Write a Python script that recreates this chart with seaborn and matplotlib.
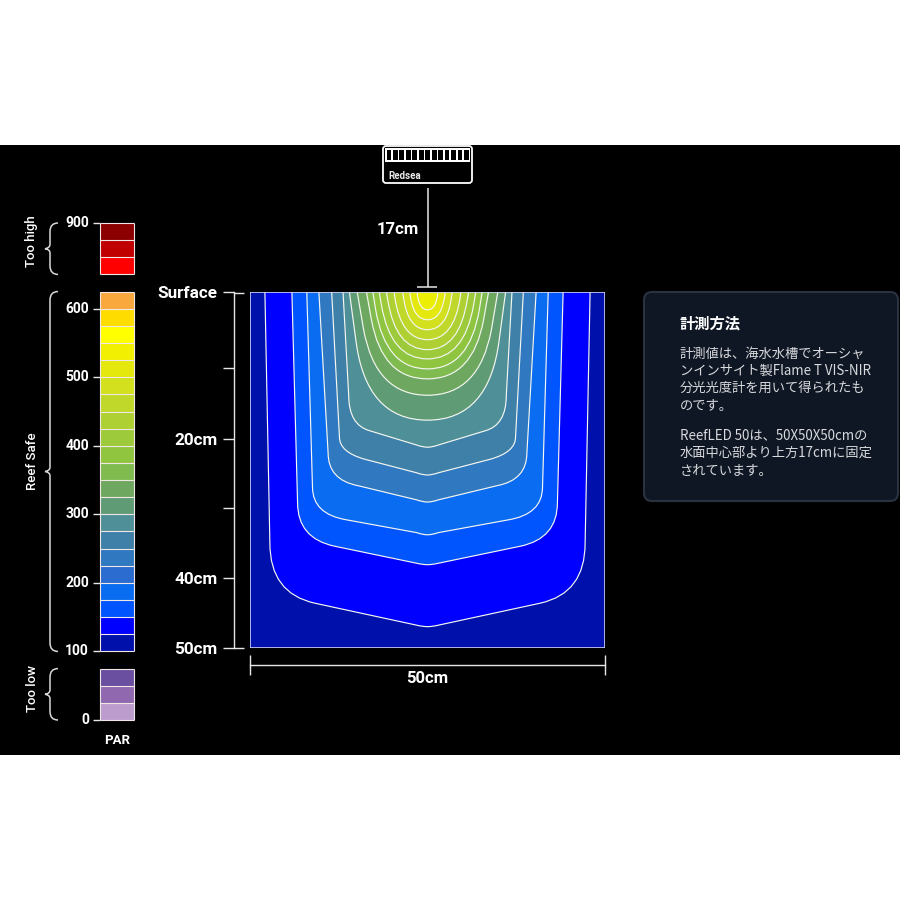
import numpy as np
import seaborn as sns
import matplotlib.pyplot as plt
from matplotlib.colors import ListedColormap
from matplotlib.patches import FancyBboxPatch, PathPatch, Rectangle
from matplotlib.path import Path
from matplotlib.transforms import blended_transform_factory

# PAR scale, top to bottom
too_high_colors = ["#8b0000", "#c00000", "#ff0000"]
reef_safe_colors = ["#f8a83c", "#ffdc00", "#ffff00", "#f2f000", "#e4e80c",
                    "#d2e01e", "#c0d82a", "#aed033", "#9cca3a", "#90c540",
                    "#80bb50", "#6ea860", "#5f9c75", "#4f9098", "#3f80a8",
                    "#3078c0", "#2a6cd0", "#0a6cf0", "#0055ff", "#0000ff", "#0010aa"]
too_low_colors = ["#6a4fa0", "#8f68b0", "#bc9ccc"]
par_tick_rows = [0, 5, 9, 13, 17, 21, 25, 29]
par_tick_labels = ["900", "600", "500", "400", "300", "200", "100", "0"]

# tank axes (cm)
depth_ticks = [0, 10.7, 20.6, 30.4, 40.1, 50]
depth_labels = ["Surface", "", "20cm", "", "40cm", "50cm"]

# iso-PAR contours, half of each curve as (half width cm, depth cm)
# outermost first: surface, corner start, corner control, corner end, chamfer end, apex control, apex
contour_outer = [
    [(22.9, 0), (22.2, 35.3), (22.2, 42.3), (15.9, 43.7), (1.5, 46.8), (0.7, 47.0), (0, 47.0)],
    [(19.1, 0), (18.3, 29.6), (18.3, 34.6), (13.1, 35.7), (1.5, 38.1), (0.7, 38.3), (0, 38.3)],
    [(17.0, 0), (16.2, 27.4), (16.2, 31.2), (11.4, 32.0), (1.5, 33.8), (0.7, 34.1), (0, 34.1)],
    [(15.3, 0), (14.0, 22.6), (14.0, 26.4), (9.8, 27.2), (1.5, 29.2), (0.7, 29.5), (0, 29.5)],
    [(13.5, 0), (12.4, 20.4), (12.4, 22.5), (8.8, 23.5), (1.5, 25.4), (0.7, 25.7), (0, 25.7)],
    [(11.9, 0), (11.1, 14.5), (11.1, 18.7), (8.1, 19.5), (1.5, 21.5), (0.7, 21.8), (0, 21.8)],
]
# inner ones: surface, curve start, curve control, apex
contour_inner = [
    [(11.0, 0), (10.1, 6.7), (8.7, 18.0), (0, 18.0)],
    [(9.9, 0), (9.0, 5.3), (7.3, 14.5), (0, 14.5)],
    [(8.6, 0), (7.9, 3.9), (6.4, 12.2), (0, 12.2)],
    [(7.7, 0), (7.3, 2.5), (5.9, 10.8), (0, 10.8)],
    [(6.8, 0), (6.5, 1.8), (5.2, 9.4), (0, 9.4)],
    [(5.8, 0), (5.6, 1.1), (4.5, 8.1), (0, 8.1)],
    [(4.7, 0), (4.6, 0.8), (3.7, 6.7), (0, 6.7)],
    [(3.5, 0), (3.4, 0.6), (2.8, 5.3), (0, 5.3)],
    [(2.5, 0), (2.45, 0.4), (2.0, 3.9), (0, 3.9)],
    [(1.5, 0), (1.45, 0.2), (1.2, 2.5), (0, 2.5)],
]
# fill inside each contour
band_colors = ["#0000ff", "#0055ff", "#0a6cf0", "#3078c0", "#3f80a8", "#4f9098", "#5f9c75", "#6ea860",
               "#80bb50", "#90c540", "#9cca3a", "#aed033", "#c0d82a", "#d2e01e", "#e4e80c", "#ecee04"]

panel_title = "計測方法"
panel_lines = [("計測値は、海水水槽でオーシャ", 354), ("ンインサイト製Flame T VIS-NIR", 371),
               ("分光光度計を用いて得られたも", 388), ("のです。", 406),
               ("ReefLED 50は、50X50X50cmの", 435), ("水面中心部より上方17cmに固定", 453),
               ("されています。", 471)]

sns.set_theme(style="white")
plt.rcParams["font.family"] = ["Roboto", "Noto Sans CJK JP", "DejaVu Sans"]
LINE = "#e6e6e6"
CJK = ["Noto Sans CJK JP", "DejaVu Sans"]

fig = plt.figure(figsize=(9, 9), dpi=100, facecolor="white")


def px_axes(x0, y0, x1, y1):
    return fig.add_axes([x0 / 900, 1 - y1 / 900, (x1 - x0) / 900, (y1 - y0) / 900])


# overlay in pixels for the decoration
bg = fig.add_axes([0, 0, 1, 1])
bg.set_xlim(0, 900)
bg.set_ylim(900, 0)
bg.axis("off")
bg.axhspan(145, 755, color="black", lw=0)

# PAR scale as a heatmap, gap rows stay empty
all_colors = too_high_colors + reef_safe_colors + too_low_colors
rows = list(range(3)) + [np.nan] + list(range(3, 24)) + [np.nan] + list(range(24, 27))
scale_ax = px_axes(100, 223, 134, 720)
sns.heatmap(np.array(rows).reshape(-1, 1), cmap=ListedColormap(all_colors), vmin=-0.5, vmax=26.5,
            cbar=False, linewidths=0, xticklabels=False, ax=scale_ax)
scale_ax.set_facecolor("none")
# cell outlines per group
for r0, r1 in [(0, 3), (4, 25), (26, 29)]:
    scale_ax.hlines(np.arange(r0, r1 + 1), 0, 1, color="#f0e6e6", lw=0.8, clip_on=False)
    scale_ax.vlines([0, 1], r0, r1, color="#f0e6e6", lw=0.8, clip_on=False)
scale_ax.set_yticks(par_tick_rows, par_tick_labels, rotation=0)
scale_ax.tick_params(axis="y", left=True, length=5, width=1, color=LINE, labelcolor="white",
                     pad=3, labelsize=10)
for t in scale_ax.get_yticklabels():
    t.set_fontweight("bold")
scale_ax.set_xlabel("")
scale_ax.set_ylabel("")

# braces, y in scale rows
brace_tr = blended_transform_factory(bg.transData, scale_ax.transData)


def brace(r0, r1):
    mid = (r0 + r1) / 2
    verts = [(58, r0), (50, r0), (50, r0 + 0.5), (50, mid - 0.25), (50, mid - 0.05), (45, mid),
             (50, mid + 0.05), (50, mid + 0.25), (50, r1 - 0.5), (50, r1), (58, r1)]
    codes = [Path.MOVETO, Path.CURVE3, Path.CURVE3, Path.LINETO, Path.CURVE3, Path.CURVE3,
             Path.CURVE3, Path.CURVE3, Path.LINETO, Path.CURVE3, Path.CURVE3]
    bg.add_patch(PathPatch(Path(verts, codes), fc="none", ec="#d8d8d8", lw=1.1, transform=brace_tr))


brace(0, 3)
brace(4, 25)
brace(26, 29)
for label, y in [("Too high", 241), ("Reef Safe", 461), ("Too low", 688)]:
    bg.text(32, y, label, color="white", fontsize=9.5, fontweight="medium", rotation=90,
            ha="center", va="center")
bg.text(117, 741, "PAR", color="white", fontsize=9.5, fontweight="bold", ha="center", va="center")

# tank
ax = px_axes(250, 292, 605, 648)
ax.set_xlim(-25, 25)
ax.set_ylim(50, 0)
ax.set_facecolor("#0010aa")


def full_path(half, half_codes):
    pts = np.array(half)
    back = pts[::-1][1:] * [-1, 1]
    verts = np.vstack([pts, back])
    codes = [Path.MOVETO] + half_codes + half_codes[::-1]
    return Path(verts, codes)


outer_codes = [Path.LINETO, Path.CURVE3, Path.CURVE3, Path.LINETO, Path.CURVE3, Path.CURVE3]
inner_codes = [Path.LINETO, Path.CURVE3, Path.CURVE3]
paths = [full_path(c, outer_codes) for c in contour_outer] + [full_path(c, inner_codes) for c in contour_inner]
for path, color in zip(paths, band_colors):
    ax.add_patch(PathPatch(path, fc=color, ec="#f4f6f0", lw=0.85))

ax.add_patch(Rectangle((0, 0), 1, 1, transform=ax.transAxes, fc="none", ec="#cfd0f4", lw=1.2, zorder=5))
ax.spines[["top", "right"]].set_visible(False)
ax.spines["left"].set_position(("outward", 11.5))
ax.spines["bottom"].set_position(("outward", 12.2))
for side in ["left", "bottom"]:
    ax.spines[side].set_color(LINE)
    ax.spines[side].set_linewidth(1)
ax.set_yticks(depth_ticks, depth_labels)
ax.set_xticks([-25, 25], ["", ""])
ax.tick_params(axis="y", left=True, length=8, width=1, color=LINE, labelcolor="white", pad=4, labelsize=12.3)
ax.tick_params(axis="x", bottom=True, direction="inout", length=14, width=1, color=LINE)
for t in ax.get_yticklabels():
    t.set_fontweight("bold")
ax.set_xlabel("50cm", color="white", fontsize=12, fontweight="bold", labelpad=-6)
bg.hlines([293, 648], 234, 244, color=LINE, lw=1)

# LED fixture and 17cm mark
bg.add_patch(FancyBboxPatch((383, 146), 89, 37, boxstyle="round,pad=0,rounding_size=3",
                            fc="black", ec="white", lw=1.3))
bg.add_patch(Rectangle((385, 148), 85, 13.5, fc="white", ec="none"))
for x in np.linspace(386.5, 464, 13):
    bg.add_patch(Rectangle((x, 150), 4.8, 10, fc="black", ec="none"))
bg.text(388, 176, "Redsea", color="#e8e8e8", fontsize=7, fontweight="bold", va="center", ha="left")
bg.vlines(428, 188, 287, color=LINE, lw=1.1)
bg.hlines(287, 417, 437, color=LINE, lw=1.1)
bg.text(419, 229, "17cm", color="white", fontsize=12, fontweight="bold", ha="right", va="center")

# note panel
bg.add_patch(FancyBboxPatch((644, 292), 254, 209, boxstyle="round,pad=0,rounding_size=8",
                            fc="#101724", ec="#2a3140", lw=1.5))
bg.text(680, 323, panel_title, color="white", fontsize=11, fontweight="bold", family=CJK, va="center")
for line, y in panel_lines:
    bg.text(680, y, line, color="#d8dadd", fontsize=9.55, family=CJK, va="center")

fig.savefig("out.png", dpi=100, facecolor="white")
